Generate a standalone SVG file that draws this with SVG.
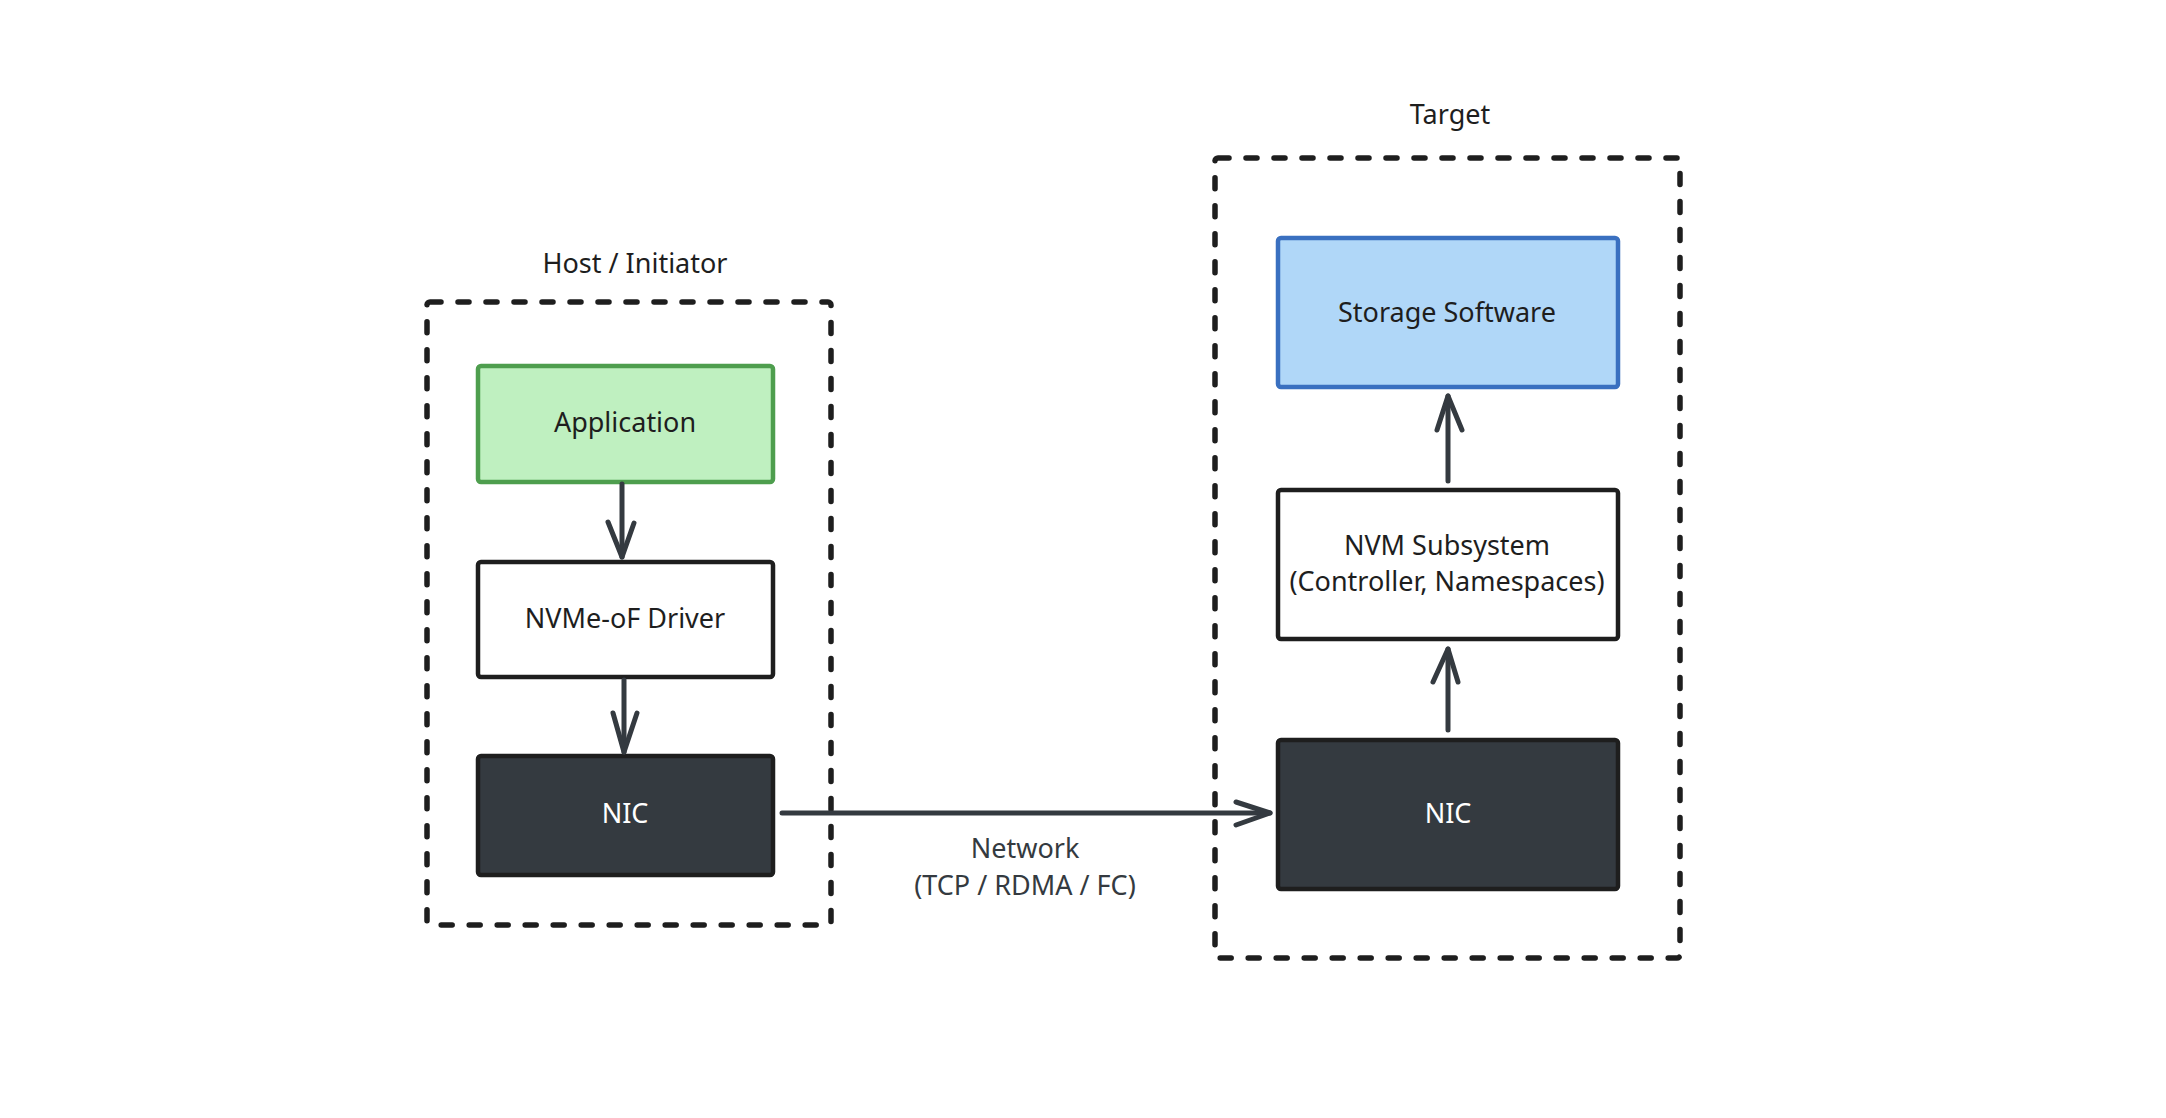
<svg xmlns="http://www.w3.org/2000/svg" width="2166" height="1118" viewBox="0 0 2166 1118">
<style>
text{font-family:"Noto Sans","Open Sans","Liberation Sans",sans-serif;font-size:27px;text-anchor:middle;fill:#1e1e1e}
.grp{fill:none;stroke:#1e1e1e;stroke-width:5.5;stroke-dasharray:11 17;stroke-linecap:round;stroke-linejoin:round}
.box{stroke:#1e1e1e;stroke-width:4.5;stroke-linejoin:round}
.conn path{fill:none;stroke:#343a40;stroke-width:5;stroke-linecap:round;stroke-linejoin:round}
.lbl{fill:#343a40}
</style>
<rect width="2166" height="1118" fill="#ffffff"/>
<g id="host-group">
<rect class="grp" x="427" y="302" width="404" height="623" rx="3"/>
<text x="635" y="273">Host / Initiator</text>
</g>
<g id="target-group">
<rect class="grp" x="1215" y="158" width="465" height="800" rx="3"/>
<text x="1450" y="124">Target</text>
</g>
<g id="application">
<rect class="box" x="478" y="366" width="295" height="116" rx="3" fill="#bff0c0" style="stroke:#4e9e4e"/>
<text x="625" y="432">Application</text>
</g>
<g id="nvmeof-driver">
<rect class="box" x="478" y="562" width="295" height="115" rx="3" fill="#ffffff"/>
<text x="625" y="628">NVMe-oF Driver</text>
</g>
<g id="host-nic">
<rect class="box" x="478" y="756" width="295" height="119" rx="3" fill="#343a40"/>
<text x="625" y="823" style="fill:#ffffff">NIC</text>
</g>
<g id="storage-software">
<rect class="box" x="1278" y="238" width="340" height="149" rx="3" fill="#b0d7f8" style="stroke:#3a70c0"/>
<text x="1447" y="322">Storage Software</text>
</g>
<g id="nvm-subsystem">
<rect class="box" x="1278" y="490" width="340" height="149" rx="3" fill="#ffffff"/>
<text x="1447" y="555">NVM Subsystem</text>
<text x="1447" y="591">(Controller, Namespaces)</text>
</g>
<g id="target-nic">
<rect class="box" x="1278" y="740" width="340" height="149" rx="3" fill="#343a40"/>
<text x="1448" y="823" style="fill:#ffffff">NIC</text>
</g>
<g id="connectors" class="conn">
<path d="M622 484 L622 557"/>
<path d="M608 522 L622 557 L634 523"/>
<path d="M624 680 L624 752"/>
<path d="M613 713 L624 752 L637 713"/>
<path d="M782 813 L1270 813"/>
<path d="M1236 802 L1270 813 L1236 825"/>
<path d="M1448 481 L1448 396"/>
<path d="M1437 430 L1448 396 L1462 430"/>
<path d="M1448 730 L1448 649"/>
<path d="M1433 682 L1448 649 L1458 682"/>
</g>
<g id="network-label">
<text class="lbl" x="1025" y="858">Network</text>
<text class="lbl" x="1025" y="895">(TCP / RDMA / FC)</text>
</g>
</svg>
